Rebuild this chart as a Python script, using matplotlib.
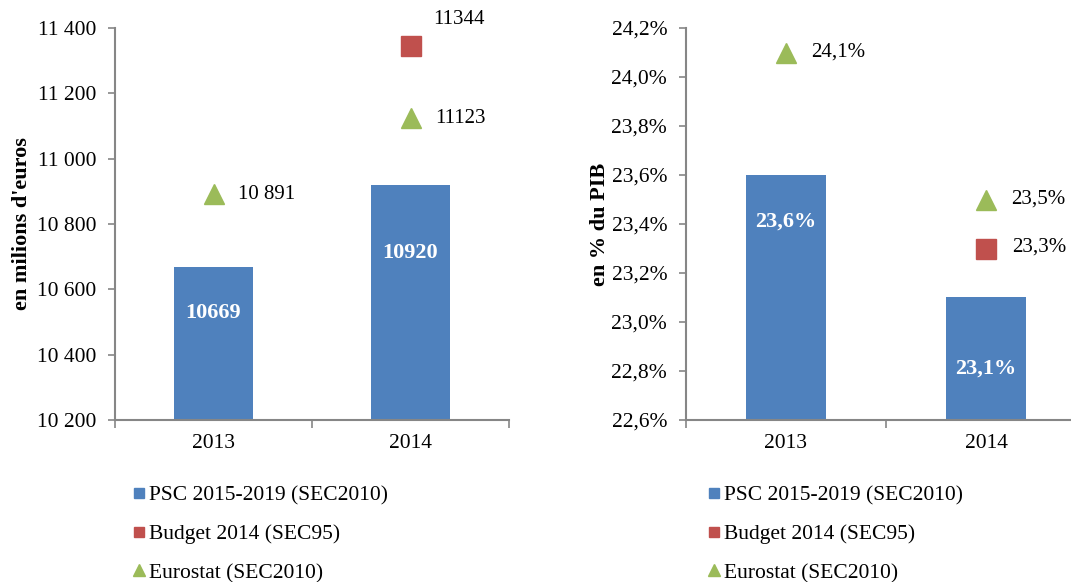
"""Recreate the two-panel PSC / Budget / Eurostat comparison chart."""

import matplotlib

matplotlib.use("Agg")
import matplotlib.pyplot as plt
from matplotlib.lines import Line2D

plt.rcParams["font.family"] = ["Liberation Serif", "DejaVu Serif"]

YEARS = ["2013", "2014"]
SERIES_LABELS = ["PSC 2015-2019 (SEC2010)", "Budget 2014 (SEC95)", "Eurostat (SEC2010)"]

# left panel: millions of euros
PSC_EUR = [10669, 10920]
BUDGET_EUR = [None, 11344]
EUROSTAT_EUR = [10891, 11123]
EUR_TICKS = [10200, 10400, 10600, 10800, 11000, 11200, 11400]
EUR_TICK_LABELS = ["10 200", "10 400", "10 600", "10 800", "11 000", "11 200", "11 400"]
PSC_EUR_TEXT = ["10669", "10920"]
BUDGET_EUR_TEXT = [None, "11344"]
EUROSTAT_EUR_TEXT = ["10 891", "11123"]

# right panel: % of GDP
PSC_PCT = [23.6, 23.1]
BUDGET_PCT = [None, 23.3]
EUROSTAT_PCT = [24.1, 23.5]
PCT_TICKS = [22.6, 22.8, 23.0, 23.2, 23.4, 23.6, 23.8, 24.0, 24.2]
PCT_TICK_LABELS = ["22,6%", "22,8%", "23,0%", "23,2%", "23,4%", "23,6%", "23,8%", "24,0%", "24,2%"]
PSC_PCT_TEXT = ["23,6%", "23,1%"]
BUDGET_PCT_TEXT = [None, "23,3%"]
EUROSTAT_PCT_TEXT = ["24,1%", "23,5%"]

BLUE = "#4F81BD"
RED = "#C0504D"
GREEN = "#9BBB59"
GREY = "#868686"
W, H = 1071, 582
FS = 15.5


def px_axes(fig, x0, y_top, width, height):
    return fig.add_axes([x0 / W, (H - y_top - height) / H, width / W, height / H])


def draw_panel(ax, psc, budget, eurostat, psc_text, budget_text, eurostat_text,
               ticks, tick_labels, ylabel, bar_label_frac, budget_offset):
    x = list(range(len(YEARS)))
    base = ticks[0]
    ax.bar(x, [v - base for v in psc], bottom=base, width=0.4, color=BLUE, zorder=2)
    for i, v in enumerate(psc):
        ax.text(i, base + (v - base) * bar_label_frac[i], psc_text[i], color="white",
                fontsize=16, fontweight="bold", ha="center", va="center", zorder=3)
    for i, v in enumerate(eurostat):
        if v is None:
            continue
        ax.plot(i, v, marker="^", ms=15, color=GREEN, ls="none", zorder=3, clip_on=False)
        ax.annotate(eurostat_text[i], (i, v), xytext=(18, 0), textcoords="offset points",
                    fontsize=15, va="center", ha="left", annotation_clip=False)
    for i, v in enumerate(budget):
        if v is None:
            continue
        ax.plot(i, v, marker="s", ms=14.5, color=RED, ls="none", zorder=3, clip_on=False)
        ax.annotate(budget_text[i], (i, v), xytext=budget_offset, textcoords="offset points",
                    fontsize=15, va="center", ha="left", annotation_clip=False)

    ax.set_xlim(-0.5, len(YEARS) - 0.5)
    ax.set_ylim(ticks[0], ticks[-1])
    ax.set_yticks(ticks, tick_labels)
    ax.set_xticks(x, YEARS)
    ax.set_xticks([i - 0.5 for i in range(len(YEARS) + 1)], minor=True)
    ax.tick_params(axis="x", which="major", length=0, pad=10, labelsize=FS)
    ax.tick_params(axis="x", which="minor", length=6, color=GREY, width=1.2)
    ax.tick_params(axis="y", length=5, color=GREY, width=1.2, labelsize=FS, pad=8.5)
    for side in ("top", "right"):
        ax.spines[side].set_visible(False)
    for side in ("left", "bottom"):
        ax.spines[side].set_color(GREY)
        ax.spines[side].set_linewidth(1.5)
    ax.set_ylabel(ylabel, fontsize=16, fontweight="bold")


def legend_handles():
    return [
        Line2D([], [], marker="s", ms=7, color=BLUE, ls="none"),
        Line2D([], [], marker="s", ms=7, color=RED, ls="none"),
        Line2D([], [], marker="^", ms=8, color=GREEN, ls="none"),
    ]


fig = plt.figure(figsize=(W / 100, H / 100), dpi=100)

ax_left = px_axes(fig, 115, 28, 394, 392)
draw_panel(ax_left, PSC_EUR, BUDGET_EUR, EUROSTAT_EUR, PSC_EUR_TEXT, BUDGET_EUR_TEXT,
           EUROSTAT_EUR_TEXT, EUR_TICKS, EUR_TICK_LABELS, "en milions d'euros",
           [0.70, 0.71], (16, 19))
ax_left.yaxis.set_label_coords(-0.21, 0.5)

ax_right = px_axes(fig, 686, 28, 400, 392)
draw_panel(ax_right, PSC_PCT, BUDGET_PCT, EUROSTAT_PCT, PSC_PCT_TEXT, BUDGET_PCT_TEXT,
           EUROSTAT_PCT_TEXT, PCT_TICKS, PCT_TICK_LABELS, "en % du PIB",
           [0.81, 0.42], (19, 1))
ax_right.yaxis.set_label_coords(-0.19, 0.5)

for x0 in (122, 697):
    fig.legend(legend_handles(), SERIES_LABELS, loc="upper left",
               bbox_to_anchor=(x0 / W, 1 - 475 / H), frameon=False, fontsize=FS,
               handlelength=0.6, handletextpad=0.15, labelspacing=0.86, borderpad=0)

fig.savefig("out.png", dpi=100)
